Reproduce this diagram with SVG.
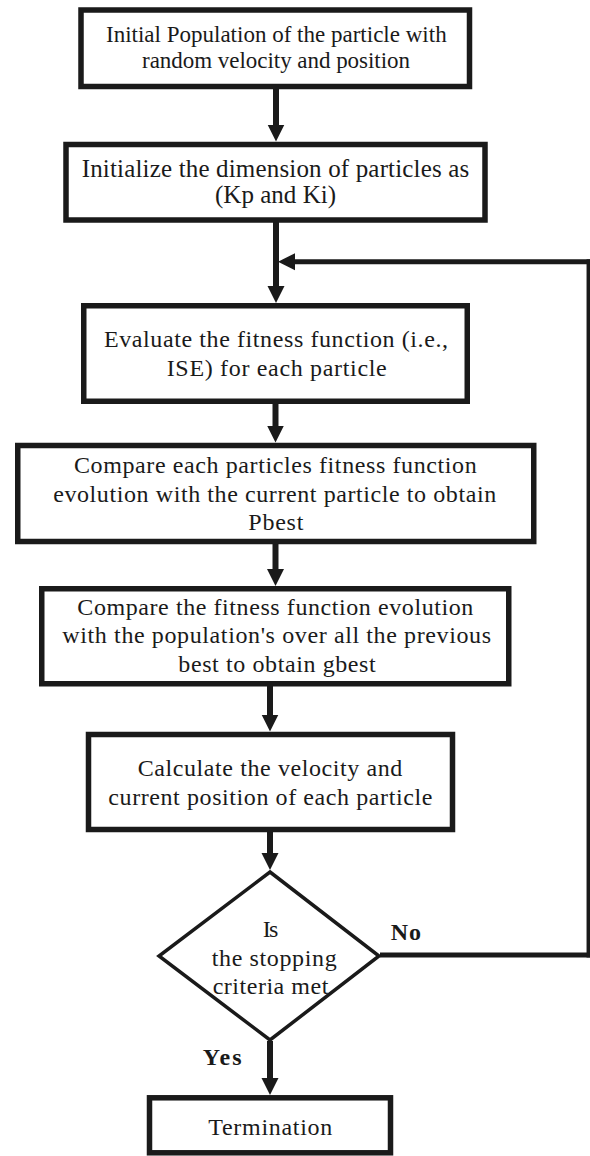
<svg xmlns="http://www.w3.org/2000/svg" width="590" height="1156" viewBox="0 0 590 1156">
<defs>
<style>
.box{fill:#fff;stroke:#1a1a1a;stroke-width:5.5}
.dia{fill:#fff;stroke:#1a1a1a;stroke-width:3.5;stroke-linejoin:miter}
.t{font-family:"Liberation Serif","Times New Roman",serif;font-size:24px;fill:#1a1a1a;text-anchor:middle}
.s{font-size:23px}
.l{font-size:25px}
.b{font-family:"Liberation Serif","Times New Roman",serif;font-size:24px;font-weight:bold;fill:#1a1a1a}
.ar{fill:none;stroke:#1a1a1a;stroke-width:6}
.ln{fill:none;stroke:#1a1a1a;stroke-width:5}
.thin{fill:none;stroke:#1a1a1a;stroke-width:3.5}
</style>
<marker id="ah" markerUnits="userSpaceOnUse" markerWidth="18" markerHeight="18" viewBox="0 0 18 18" refX="7" refY="9" orient="auto">
<path d="M0,0.5 L17,9 L0,17.5 Z" fill="#1a1a1a"/>
</marker>
</defs>
<g id="connectors">
<line class="ar" x1="276" y1="88" x2="276" y2="131.5" marker-end="url(#ah)"/>
<line class="ar" x1="276" y1="221" x2="276" y2="293" marker-end="url(#ah)"/>
<line class="ar" x1="275.5" y1="403" x2="275.5" y2="432.5" marker-end="url(#ah)"/>
<line class="ar" x1="275.5" y1="543" x2="275.5" y2="576" marker-end="url(#ah)"/>
<line class="ar" x1="270" y1="686" x2="270" y2="721.5" marker-end="url(#ah)"/>
<line class="ar" x1="270" y1="832" x2="270" y2="860" marker-end="url(#ah)"/>
<line class="ar" x1="270" y1="1041" x2="270" y2="1085" marker-end="url(#ah)"/>
<line class="ln" x1="380" y1="955" x2="590" y2="955"/>
<line class="thin" x1="588.3" y1="957.5" x2="588.3" y2="259.2"/>
<line class="ln" x1="590" y1="261.7" x2="288" y2="261.7" marker-end="url(#ah)"/>
</g>
<g id="n1">
<rect class="box" x="81" y="10" width="388.5" height="76.5"/>
<text class="t s" x="276.3" y="42.3" textLength="340.7" lengthAdjust="spacing">Initial Population of the particle with</text>
<text class="t s" x="276" y="68.3" textLength="268" lengthAdjust="spacing">random velocity and position</text>
</g>
<g id="n2">
<rect class="box" x="66" y="144.5" width="419" height="75.5"/>
<text class="t l" x="275.5" y="176.5" textLength="387.6" lengthAdjust="spacing">Initialize the dimension of particles as</text>
<text class="t l" x="275.5" y="202.5" textLength="121" lengthAdjust="spacing">(Kp and Ki)</text>
</g>
<g id="n3">
<rect class="box" x="83.75" y="305.75" width="383.5" height="95.5"/>
<text class="t" x="276" y="346.7" textLength="344" lengthAdjust="spacing">Evaluate the fitness function (i.e.,</text>
<text class="t" x="276.7" y="375.7" textLength="220" lengthAdjust="spacing">ISE) for each particle</text>
</g>
<g id="n4">
<rect class="box" x="17.75" y="445.5" width="516" height="96"/>
<text class="t" x="275.3" y="472.7" textLength="402.7" lengthAdjust="spacing">Compare each particles fitness function</text>
<text class="t" x="274.7" y="501.7" textLength="443" lengthAdjust="spacing">evolution with the current particle to obtain</text>
<text class="t" x="275.8" y="530" textLength="55" lengthAdjust="spacing">Pbest</text>
</g>
<g id="n5">
<rect class="box" x="41.75" y="588.75" width="467" height="95"/>
<text class="t" x="275.3" y="615" textLength="396" lengthAdjust="spacing">Compare the fitness function evolution</text>
<text class="t" x="276.7" y="643.3" textLength="428.7" lengthAdjust="spacing">with the population's over all the previous</text>
<text class="t" x="277" y="672.3" textLength="197.4" lengthAdjust="spacing">best to obtain gbest</text>
</g>
<g id="n6">
<rect class="box" x="88.5" y="734.5" width="364" height="95"/>
<text class="t" x="270" y="776" textLength="264.7" lengthAdjust="spacing">Calculate the velocity and</text>
<text class="t" x="270.3" y="805" textLength="324" lengthAdjust="spacing">current position of each particle</text>
</g>
<g id="n7">
<polygon class="dia" points="270,872 379,956 270,1040 159,956"/>
<text class="t" x="270.5" y="937.3" textLength="15.7" lengthAdjust="spacing">Is</text>
<text class="t" x="274.2" y="966" textLength="125" lengthAdjust="spacing">the stopping</text>
<text class="t" x="270.5" y="994" textLength="115.7" lengthAdjust="spacing">criteria met</text>
</g>
<g id="labels">
<text class="b" x="390.7" y="940" textLength="30.3" lengthAdjust="spacing">No</text>
<text class="b" x="202.7" y="1065" textLength="39" lengthAdjust="spacing">Yes</text>
</g>
<g id="n8">
<rect class="box" x="149.5" y="1097.8" width="241" height="55"/>
<text class="t" x="270.3" y="1135" textLength="124" lengthAdjust="spacing">Termination</text>
</g>
</svg>
